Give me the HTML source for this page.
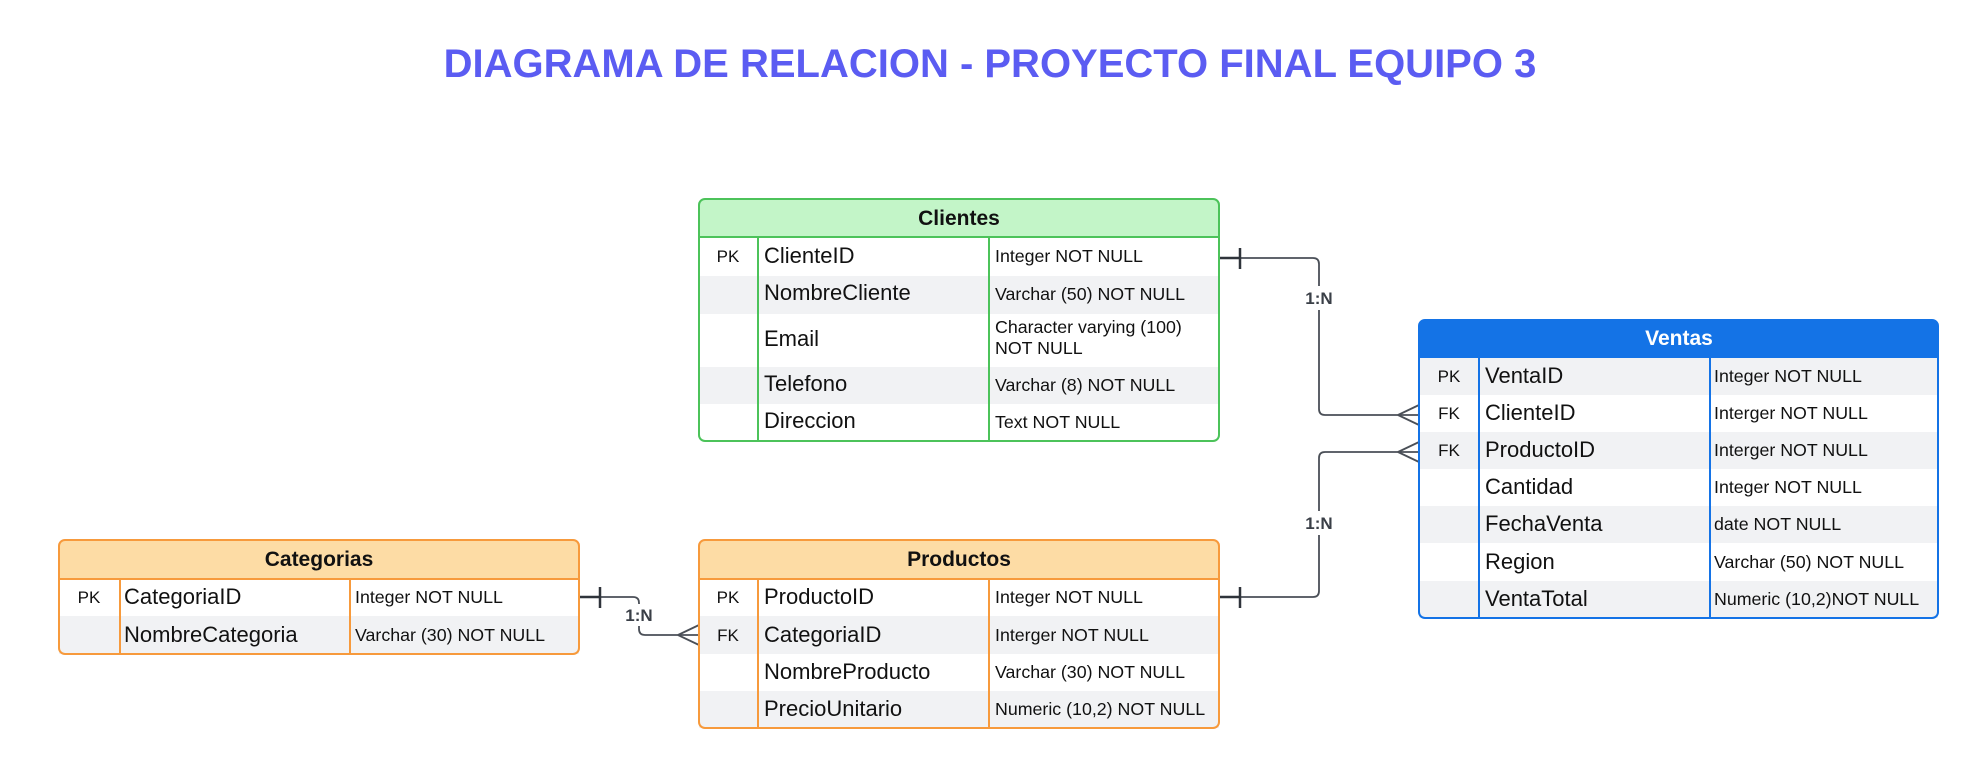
<!DOCTYPE html>
<html><head><meta charset="utf-8"><style>
html,body{margin:0;padding:0;background:#fff;}
svg{display:block;}
text{font-family:"Liberation Sans",Arial,sans-serif;}
</style></head><body>
<svg width="1979" height="768" viewBox="0 0 1979 768" xmlns="http://www.w3.org/2000/svg">
<text x="990" y="77" text-anchor="middle" font-size="40" font-weight="bold" fill="#5b5cf2">DIAGRAMA DE RELACION - PROYECTO FINAL EQUIPO 3</text>

<!-- connectors -->
<g fill="none" stroke="#4a4f57" stroke-width="1.8">
<path d="M1219 258 H1313 Q1319 258 1319 264 V409 Q1319 415 1325 415 H1419"/>
<path d="M1219 597 H1313 Q1319 597 1319 591 V458 Q1319 452 1325 452 H1419"/>
<path d="M579 597 H633 Q639 597 639 603 V629 Q639 635 645 635 H699"/>
<path d="M1398 415 L1419 405 M1398 415 L1419 425"/>
<path d="M1398 452 L1419 442 M1398 452 L1419 462"/>
<path d="M678 635 L699 625 M678 635 L699 645"/>
</g>
<g stroke="#2f343b" stroke-width="2.5">
<line x1="1219" y1="258" x2="1240" y2="258"/><line x1="1240" y1="248" x2="1240" y2="269"/>
<line x1="1219" y1="597" x2="1240" y2="597"/><line x1="1240" y1="587" x2="1240" y2="608"/>
<line x1="579" y1="597" x2="600" y2="597"/><line x1="600" y1="587" x2="600" y2="608"/>
</g>
<g font-size="17" font-weight="bold" fill="#3a3f47" text-anchor="middle">
<rect x="1302" y="286" width="34" height="24" fill="#fff"/><text x="1319" y="304">1:N</text>
<rect x="1302" y="511" width="34" height="24" fill="#fff"/><text x="1319" y="529">1:N</text>
<rect x="622" y="604" width="34" height="22" fill="#fff"/><text x="639" y="621">1:N</text>
</g>

<!-- Clientes -->
<g>
<rect x="699" y="276" width="520" height="38" fill="#f1f2f4"/>
<rect x="699" y="367" width="520" height="37" fill="#f1f2f4"/>
<path d="M699 237 V205 Q699 199 705 199 H1213 Q1219 199 1219 205 V237 Z" fill="#c3f5c8"/>
<rect x="699" y="199" width="520" height="242" rx="6" fill="none" stroke="#4cc35a" stroke-width="2"/>
<line x1="699" y1="237" x2="1219" y2="237" stroke="#4cc35a" stroke-width="2"/>
<line x1="758" y1="237" x2="758" y2="441" stroke="#4cc35a" stroke-width="2"/>
<line x1="989" y1="237" x2="989" y2="441" stroke="#4cc35a" stroke-width="2"/>
<text x="959" y="225" text-anchor="middle" font-size="21" font-weight="bold" fill="#111">Clientes</text>
<g font-size="22" fill="#111">
<text x="764" y="263">ClienteID</text><text x="764" y="300">NombreCliente</text><text x="764" y="346">Email</text><text x="764" y="391">Telefono</text><text x="764" y="428">Direccion</text>
</g>
<text x="728" y="262" text-anchor="middle" font-size="17" fill="#111">PK</text>
<g font-size="17.8" fill="#111">
<text x="995" y="262">Integer NOT NULL</text><text x="995" y="300">Varchar (50) NOT NULL</text><text x="995" y="333">Character varying (100)</text><text x="995" y="354">NOT NULL</text><text x="995" y="391">Varchar (8) NOT NULL</text><text x="995" y="428">Text NOT NULL</text>
</g>
</g>

<!-- Ventas -->
<g>
<rect x="1419" y="358" width="519" height="37" fill="#f1f2f4"/>
<rect x="1419" y="432" width="519" height="37" fill="#f1f2f4"/>
<rect x="1419" y="506" width="519" height="37" fill="#f1f2f4"/>
<rect x="1419" y="581" width="519" height="37" fill="#f1f2f4"/>
<path d="M1419 358 V326 Q1419 320 1425 320 H1932 Q1938 320 1938 326 V358 Z" fill="#1473e6"/>
<rect x="1419" y="320" width="519" height="298" rx="6" fill="none" stroke="#1473e6" stroke-width="2"/>
<line x1="1479" y1="358" x2="1479" y2="618" stroke="#1473e6" stroke-width="2"/>
<line x1="1710" y1="358" x2="1710" y2="618" stroke="#1473e6" stroke-width="2"/>
<text x="1679" y="345" text-anchor="middle" font-size="21" font-weight="bold" fill="#fff">Ventas</text>
<g font-size="22" fill="#111">
<text x="1485" y="383">VentaID</text><text x="1485" y="420">ClienteID</text><text x="1485" y="457">ProductoID</text><text x="1485" y="494">Cantidad</text><text x="1485" y="531">FechaVenta</text><text x="1485" y="569">Region</text><text x="1485" y="606">VentaTotal</text>
</g>
<g font-size="17" fill="#111" text-anchor="middle">
<text x="1449" y="382">PK</text><text x="1449" y="419">FK</text><text x="1449" y="456">FK</text>
</g>
<g font-size="17.8" fill="#111">
<text x="1714" y="382">Integer NOT NULL</text><text x="1714" y="419">Interger NOT NULL</text><text x="1714" y="456">Interger NOT NULL</text><text x="1714" y="493">Integer NOT NULL</text><text x="1714" y="530">date NOT NULL</text><text x="1714" y="568">Varchar (50) NOT NULL</text><text x="1714" y="605">Numeric (10,2)NOT NULL</text>
</g>
</g>

<!-- Categorias -->
<g>
<rect x="59" y="616" width="520" height="38" fill="#f1f2f4"/>
<path d="M59 579 V546 Q59 540 65 540 H573 Q579 540 579 546 V579 Z" fill="#fddca5"/>
<rect x="59" y="540" width="520" height="114" rx="6" fill="none" stroke="#f79a3c" stroke-width="2"/>
<line x1="59" y1="579" x2="579" y2="579" stroke="#f79a3c" stroke-width="2"/>
<line x1="120" y1="579" x2="120" y2="654" stroke="#f79a3c" stroke-width="2"/>
<line x1="350" y1="579" x2="350" y2="654" stroke="#f79a3c" stroke-width="2"/>
<text x="319" y="566" text-anchor="middle" font-size="21" font-weight="bold" fill="#111">Categorias</text>
<g font-size="22" fill="#111"><text x="124" y="604">CategoriaID</text><text x="124" y="642">NombreCategoria</text></g>
<text x="89" y="603" text-anchor="middle" font-size="17" fill="#111">PK</text>
<g font-size="17.8" fill="#111"><text x="355" y="603">Integer NOT NULL</text><text x="355" y="641">Varchar (30) NOT NULL</text></g>
</g>

<!-- Productos -->
<g>
<rect x="699" y="616" width="520" height="38" fill="#f1f2f4"/>
<rect x="699" y="691" width="520" height="37" fill="#f1f2f4"/>
<path d="M699 579 V546 Q699 540 705 540 H1213 Q1219 540 1219 546 V579 Z" fill="#fddca5"/>
<rect x="699" y="540" width="520" height="188" rx="6" fill="none" stroke="#f79a3c" stroke-width="2"/>
<line x1="699" y1="579" x2="1219" y2="579" stroke="#f79a3c" stroke-width="2"/>
<line x1="758" y1="579" x2="758" y2="728" stroke="#f79a3c" stroke-width="2"/>
<line x1="989" y1="579" x2="989" y2="728" stroke="#f79a3c" stroke-width="2"/>
<text x="959" y="566" text-anchor="middle" font-size="21" font-weight="bold" fill="#111">Productos</text>
<g font-size="22" fill="#111"><text x="764" y="604">ProductoID</text><text x="764" y="642">CategoriaID</text><text x="764" y="679">NombreProducto</text><text x="764" y="716">PrecioUnitario</text></g>
<g font-size="17" fill="#111" text-anchor="middle"><text x="728" y="603">PK</text><text x="728" y="641">FK</text></g>
<g font-size="17.8" fill="#111"><text x="995" y="603">Integer NOT NULL</text><text x="995" y="641">Interger NOT NULL</text><text x="995" y="678">Varchar (30) NOT NULL</text><text x="995" y="715">Numeric (10,2) NOT NULL</text></g>
</g>
</svg>
</body></html>
